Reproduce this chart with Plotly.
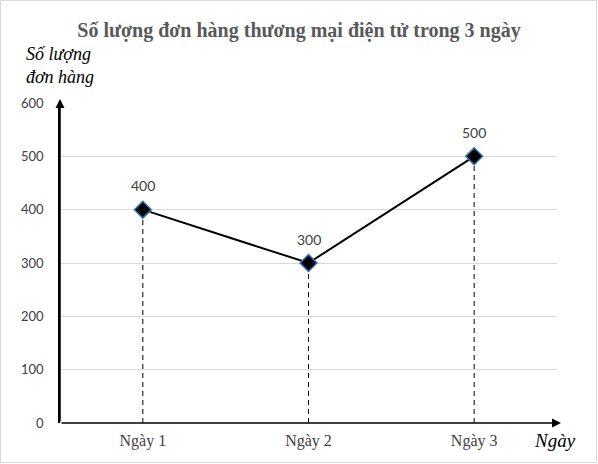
import plotly.graph_objects as go

categories = ["Ngày 1", "Ngày 2", "Ngày 3"]
values = [400, 300, 500]
y_ticks = [0, 100, 200, 300, 400, 500, 600]

W, H = 598, 464
L, R, T, B = 60, 41, 103, 41
pw, ph = W - L - R, H - T - B

def px(xp):
    return (xp - L) / pw

def py(yp):
    return (H - B - yp) / ph

fig = go.Figure()

# dashed drop lines
for c, v in zip(categories, values):
    fig.add_trace(go.Scatter(x=[c, c], y=[0, v], mode="lines",
                             line=dict(color="black", width=1, dash="5px,4px"),
                             hoverinfo="skip", showlegend=False))

fig.add_trace(go.Scatter(
    x=categories, y=values, mode="lines+markers",
    line=dict(color="black", width=2),
    marker=dict(symbol="diamond", size=13, color="black",
                line=dict(color="#2e75b6", width=1.5)),
    showlegend=False))

# data labels
for i, v in enumerate(values):
    fig.add_annotation(x=i, y=v, xref="x", yref="y", text=str(v),
                       showarrow=False, yshift=24, yanchor="middle",
                       font=dict(family="Lato", size=14, color="#404040"))

fig.update_layout(
    width=W, height=H,
    margin=dict(l=L, r=R, t=T, b=B),
    paper_bgcolor="white", plot_bgcolor="white",
    font=dict(family="Liberation Serif", color="#404040"),
    title=dict(text="<b>Số lượng đơn hàng thương mại điện tử trong 3 ngày</b>",
               x=0.5, xanchor="center", y=1 - 30 / H, yanchor="middle",
               font=dict(family="Liberation Serif", size=20, color="#595959")),
    xaxis=dict(type="category", range=[-0.5, 2.5], showgrid=False,
               showline=False, ticks="", zeroline=False, ticklabelstandoff=6,
               tickfont=dict(family="Liberation Serif", size=16, color="#404040")),
    yaxis=dict(range=[0, 600], tickvals=y_ticks, showgrid=True,
               gridcolor="#d9d9d9", gridwidth=1, showline=True,
               linecolor="black", linewidth=1.5, ticks="", zeroline=False,
               ticklabelstandoff=12,
               tickfont=dict(family="Lato", size=13, color="#404040")),
)

# x axis line with arrow
fig.add_annotation(x=px(561), y=0, xref="paper", yref="y",
                   ax=-(561 - 60), ay=0, axref="pixel", ayref="pixel",
                   showarrow=True, arrowhead=2, arrowsize=1.2, arrowwidth=1.5,
                   arrowcolor="black", text="")
# y axis arrow
fig.add_annotation(x=0, y=py(99), xref="paper", yref="paper",
                   ax=0, ay=(423 - 99), axref="pixel", ayref="pixel",
                   showarrow=True, arrowhead=2, arrowsize=1.2, arrowwidth=1.5,
                   arrowcolor="black", text="")

fig.add_annotation(x=px(24), y=py(66), xref="paper", yref="paper",
                   xanchor="left", yanchor="middle", showarrow=False, align="left",
                   text="<i>Số lượng<br>đơn hàng</i>",
                   font=dict(family="Liberation Serif", size=18, color="black"))
fig.add_annotation(x=px(532), y=py(440), xref="paper", yref="paper",
                   xanchor="left", yanchor="middle", showarrow=False,
                   text="<i>Ngày</i>",
                   font=dict(family="Liberation Serif", size=19, color="black"))

# outer border
fig.add_shape(type="rect", xref="paper", yref="paper",
              x0=px(0.5), x1=px(W - 1.5), y0=py(H - 1.5), y1=py(0.5),
              line=dict(color="#d9d9d9", width=1))

fig.write_html("out.html", config={"displayModeBar": False},
               post_script="document.body.style.margin='0';")
